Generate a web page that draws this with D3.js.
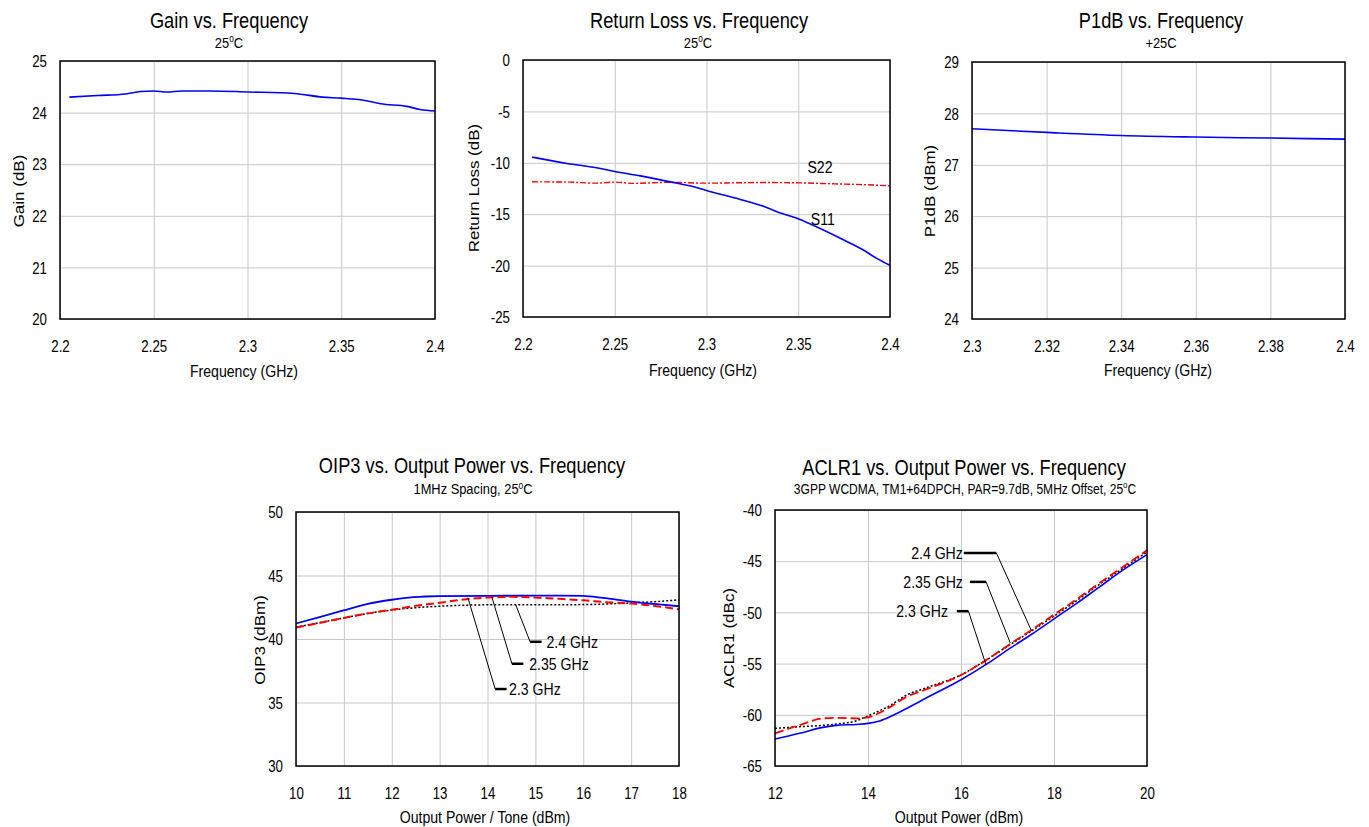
<!DOCTYPE html>
<html>
<head>
<meta charset="utf-8">
<script src="https://cdn.jsdelivr.net/npm/d3@7"></script>
<style>
  body { margin: 0; background: #fff; }
  text { font-family: "Liberation Sans", Arial, sans-serif; fill: #000; }
</style>
</head>
<body>
<script>
const WIDTH = 1369;
const HEIGHT = 827;
const SX = 0.83; // the source text is narrow, squeeze it sideways

// ---- Gain vs. Frequency
const gainFreq = [2.205, 2.22, 2.235, 2.243, 2.25, 2.257, 2.265, 2.28, 2.3, 2.325, 2.34, 2.35, 2.362, 2.371, 2.385, 2.392, 2.4];
const gainDb = [24.30, 24.33, 24.36, 24.41, 24.42, 24.40, 24.42, 24.42, 24.40, 24.37, 24.30, 24.28, 24.24, 24.17, 24.12, 24.06, 24.03];
const gainXTicks = [2.2, 2.25, 2.3, 2.35, 2.4];
const gainXLabels = ["2.2", "2.25", "2.3", "2.35", "2.4"];
const gainYTicks = [20, 21, 22, 23, 24, 25];
const gainYLabels = ["20", "21", "22", "23", "24", "25"];

// ---- Return Loss vs. Frequency
const s11Freq = [2.205, 2.224, 2.24, 2.25, 2.264, 2.281, 2.295, 2.3, 2.318, 2.331, 2.339, 2.35, 2.356, 2.374, 2.385, 2.393, 2.4];
const s11Db = [-9.45, -10.06, -10.49, -10.84, -11.27, -11.88, -12.43, -12.69, -13.54, -14.22, -14.8, -15.45, -15.91, -17.44, -18.44, -19.32, -19.97];
const s22Freq = [2.205, 2.225, 2.24, 2.25, 2.26, 2.28, 2.3, 2.33, 2.35, 2.37, 2.385, 2.4];
const s22Db = [-11.85, -11.88, -11.98, -11.88, -12.0, -11.9, -11.98, -11.92, -11.95, -12.05, -12.12, -12.24];
const rlYTicks = [-25, -20, -15, -10, -5, 0];
const rlYLabels = ["-25", "-20", "-15", "-10", "-5", "0"];

// ---- P1dB vs. Frequency
const p1Freq = [2.3, 2.32, 2.34, 2.36, 2.38, 2.4];
const p1Dbm = [27.70, 27.63, 27.57, 27.54, 27.52, 27.50];
const p1XTicks = [2.3, 2.32, 2.34, 2.36, 2.38, 2.4];
const p1XLabels = ["2.3", "2.32", "2.34", "2.36", "2.38", "2.4"];
const p1YTicks = [24, 25, 26, 27, 28, 29];
const p1YLabels = ["24", "25", "26", "27", "28", "29"];

// ---- OIP3 vs. Output Power
const oip3Pout23 = [10, 10.51, 10.99, 11.48, 12.0, 12.45, 13.0, 14.0, 15.0, 15.51, 16.0, 16.41, 17.0, 17.53, 18.0];
const oip3Val23 = [41.22, 41.74, 42.25, 42.75, 43.09, 43.29, 43.37, 43.39, 43.42, 43.42, 43.39, 43.24, 42.95, 42.74, 42.58];
const oip3Pout235 = [10, 10.51, 10.99, 11.48, 12.0, 12.45, 13.0, 13.5, 14.0, 14.54, 15.0, 15.5, 16.0, 16.48, 17.0, 17.53, 18.0];
const oip3Val235 = [40.90, 41.28, 41.65, 42.0, 42.3, 42.58, 42.85, 43.11, 43.26, 43.32, 43.26, 43.16, 43.05, 42.90, 42.79, 42.58, 42.34];
const oip3Pout24 = [10, 10.51, 10.99, 11.48, 12.0, 12.45, 13.0, 14.0, 15.0, 16.0, 17.0, 17.53, 18.0];
const oip3Val24 = [40.93, 41.3, 41.65, 42.0, 42.28, 42.45, 42.58, 42.69, 42.69, 42.71, 42.84, 42.95, 43.08];
const oip3XTicks = [10, 11, 12, 13, 14, 15, 16, 17, 18];
const oip3XLabels = ["10", "11", "12", "13", "14", "15", "16", "17", "18"];
const oip3YTicks = [30, 35, 40, 45, 50];
const oip3YLabels = ["30", "35", "40", "45", "50"];

// ---- ACLR1 vs. Output Power
const aclrPout = [12, 12.53, 13.03, 13.32, 13.75, 14.0, 14.25, 14.47, 14.83, 15.26, 16.0, 16.54, 17.05, 17.51, 18.01, 18.48, 18.98, 19.48, 20];
const aclr23 = [-62.37, -61.81, -61.23, -61.03, -60.94, -60.84, -60.6, -60.2, -59.38, -58.34, -56.58, -55.08, -53.52, -52.16, -50.60, -49.14, -47.51, -45.88, -44.36];
const aclr235 = [-61.81, -61.0, -60.35, -60.29, -60.35, -60.25, -59.8, -59.25, -58.24, -57.5, -56.12, -54.66, -53.10, -51.74, -50.18, -48.75, -47.12, -45.56, -43.93];
const aclr24 = [-61.33, -61.16, -61.03, -60.9, -60.58, -60.1, -59.6, -59.1, -58.07, -57.35, -56.1, -54.66, -53.17, -51.83, -50.34, -48.88, -47.25, -45.72, -44.10];
const aclrXTicks = [12, 14, 16, 18, 20];
const aclrXLabels = ["12", "14", "16", "18", "20"];
const aclrYTicks = [-65, -60, -55, -50, -45, -40];
const aclrYLabels = ["-65", "-60", "-55", "-50", "-45", "-40"];

const BLUE = "#0000ff";
const RED = "#ff0000";

var svg = d3.select("body").append("svg")
    .attr("width", WIDTH)
    .attr("height", HEIGHT);

// text helper: "º" becomes a small raised o
function addText(parent, x, y, str, size, anchor, rotated, dy) {
    let t = parent.append("text")
        .attr("transform", rotated
            ? `translate(${x},${y}) rotate(-90) scale(1,${SX})`
            : `translate(${x},${y}) scale(${SX},1)`)
        .attr("text-anchor", anchor || "middle")
        .attr("font-size", size);
    if (dy) t.attr("dy", dy);
    let parts = str.split("º");
    parts.forEach(function (p, i) {
        if (i > 0) {
            t.append("tspan").attr("font-size", size * 0.65).attr("dy", -size * 0.35).text("o");
        }
        let sp = t.append("tspan").text(p);
        if (i > 0) sp.attr("dy", size * 0.35);
    });
    return t;
}

function drawChart(c) {
    let g = svg.append("g");
    let x = d3.scaleLinear().domain(c.xDomain).range([c.left, c.right]);
    let y = d3.scaleLinear().domain(c.yDomain).range([c.bottom, c.top]);

    // grid
    g.append("g")
        .attr("transform", `translate(0,${c.bottom})`)
        .call(d3.axisBottom(x).tickValues(c.xTicks).tickSize(-(c.bottom - c.top)).tickFormat(""))
        .call(a => a.select(".domain").remove())
        .selectAll("line").attr("stroke", "#c8c8c8");
    g.append("g")
        .attr("transform", `translate(${c.left},0)`)
        .call(d3.axisLeft(y).tickValues(c.yTicks).tickSize(-(c.right - c.left)).tickFormat(""))
        .call(a => a.select(".domain").remove())
        .selectAll("line").attr("stroke", "#c8c8c8");

    // tick labels
    g.append("g")
        .attr("transform", `translate(0,${c.bottom})`)
        .call(d3.axisBottom(x).tickValues(c.xTicks).tickSize(0).tickFormat((d, i) => c.xLabels[i]))
        .call(a => a.select(".domain").remove())
        .selectAll("text")
        .attr("y", 33.5).attr("dy", 0)
        .attr("font-size", 16).attr("font-family", null).attr("fill", "#000")
        .attr("transform", `scale(${SX},1)`);
    g.append("g")
        .attr("transform", `translate(${c.left},0)`)
        .call(d3.axisLeft(y).tickValues(c.yTicks).tickSize(0).tickFormat((d, i) => c.yLabels[i]))
        .call(a => a.select(".domain").remove())
        .selectAll("text")
        .attr("x", -13 / SX).attr("dy", "0.36em")
        .attr("font-size", 16).attr("font-family", null).attr("fill", "#000")
        .attr("transform", `scale(${SX},1)`);

    // curves
    let line = d3.line()
        .x(d => x(d[0]))
        .y(d => y(d[1]))
        .curve(d3.curveMonotoneX);
    c.series.forEach(function (s) {
        g.append("path")
            .datum(d3.zip(s.x, s.y))
            .attr("d", line)
            .attr("fill", "none")
            .attr("stroke", s.color)
            .attr("stroke-width", s.width)
            .attr("stroke-dasharray", s.dash || null);
    });

    // leader lines
    (c.leaders || []).forEach(function (l) {
        g.append("path")
            .attr("d", d3.line().x(d => x(d[0])).y(d => y(d[1]))(l.thin))
            .attr("fill", "none").attr("stroke", "#000").attr("stroke-width", 1);
        g.append("path")
            .attr("d", d3.line().x(d => x(d[0])).y(d => y(d[1]))(l.thick))
            .attr("fill", "none").attr("stroke", "#000").attr("stroke-width", 2.5);
    });
    (c.notes || []).forEach(function (n) {
        addText(g, x(n.x), y(n.y), n.text, 17, n.anchor, false, "0.36em");
    });

    // frame
    g.append("rect")
        .attr("x", c.left).attr("y", c.top)
        .attr("width", c.right - c.left).attr("height", c.bottom - c.top)
        .attr("fill", "none").attr("stroke", "#000").attr("stroke-width", 1.5);

    // titles
    addText(g, c.titlePos[0], c.titlePos[1], c.title, 22, "middle");
    addText(g, c.subPos[0], c.subPos[1], c.sub, c.subSize || 15.5, "middle");
    addText(g, c.xTitlePos[0], c.xTitlePos[1], c.xTitle, 17, "middle");
    addText(g, c.yTitlePos[0], c.yTitlePos[1], c.yTitle, 17, "middle", true, "0.36em");
}

drawChart({
    left: 60, right: 435, top: 61, bottom: 319,
    xDomain: [2.2, 2.4], yDomain: [20, 25],
    xTicks: gainXTicks, xLabels: gainXLabels, yTicks: gainYTicks, yLabels: gainYLabels,
    title: "Gain vs. Frequency", titlePos: [229, 28],
    sub: "25ºC", subPos: [229, 47.5],
    xTitle: "Frequency (GHz)", xTitlePos: [244, 376.5],
    yTitle: "Gain (dB)", yTitlePos: [19, 191],
    series: [{ x: gainFreq, y: gainDb, color: BLUE, width: 1.6 }]
});

drawChart({
    left: 523, right: 890, top: 60, bottom: 317,
    xDomain: [2.2, 2.4], yDomain: [-25, 0],
    xTicks: gainXTicks, xLabels: gainXLabels, yTicks: rlYTicks, yLabels: rlYLabels,
    title: "Return Loss vs. Frequency", titlePos: [699, 28],
    sub: "25ºC", subPos: [698, 47.5],
    xTitle: "Frequency (GHz)", xTitlePos: [703, 376],
    yTitle: "Return Loss (dB)", yTitlePos: [474, 188],
    series: [
        { x: s22Freq, y: s22Db, color: RED, width: 1.4, dash: "6,2,2,2" },
        { x: s11Freq, y: s11Db, color: BLUE, width: 1.6 }
    ],
    notes: [
        { text: "S22", x: 2.355, y: -10.39, anchor: "start" },
        { text: "S11", x: 2.3568, y: -15.42, anchor: "start" }
    ]
});

drawChart({
    left: 972, right: 1345, top: 62, bottom: 319,
    xDomain: [2.3, 2.4], yDomain: [24, 29],
    xTicks: p1XTicks, xLabels: p1XLabels, yTicks: p1YTicks, yLabels: p1YLabels,
    title: "P1dB vs. Frequency", titlePos: [1161, 28],
    sub: "+25C", subPos: [1161, 47.5],
    xTitle: "Frequency (GHz)", xTitlePos: [1158, 376],
    yTitle: "P1dB (dBm)", yTitlePos: [930, 191],
    series: [{ x: p1Freq, y: p1Dbm, color: BLUE, width: 1.6 }]
});

drawChart({
    left: 296, right: 679, top: 512, bottom: 766,
    xDomain: [10, 18], yDomain: [30, 50],
    xTicks: oip3XTicks, xLabels: oip3XLabels, yTicks: oip3YTicks, yLabels: oip3YLabels,
    title: "OIP3 vs. Output Power vs. Frequency", titlePos: [472, 473],
    sub: "1MHz Spacing, 25ºC", subPos: [473, 494],
    xTitle: "Output Power / Tone (dBm)", xTitlePos: [485, 823],
    yTitle: "OIP3 (dBm)", yTitlePos: [260, 640],
    series: [
        { x: oip3Pout24, y: oip3Val24, color: "#000", width: 1.5, dash: "2,2" },
        { x: oip3Pout23, y: oip3Val23, color: BLUE, width: 1.8 },
        { x: oip3Pout235, y: oip3Val235, color: RED, width: 2, dash: "8,4" }
    ],
    leaders: [
        { thin: [[13.59, 43.26], [14.16, 36.06]], thick: [[14.16, 36.06], [14.40, 36.06]] },
        { thin: [[14.09, 43.32], [14.51, 38.05]], thick: [[14.51, 38.05], [14.75, 38.05]] },
        { thin: [[14.59, 42.69], [14.89, 39.78]], thick: [[14.89, 39.78], [15.13, 39.78]] }
    ],
    notes: [
        { text: "2.3 GHz", x: 14.45, y: 36.06, anchor: "start" },
        { text: "2.35 GHz", x: 14.87, y: 38.05, anchor: "start" },
        { text: "2.4 GHz", x: 15.23, y: 39.78, anchor: "start" }
    ]
});

drawChart({
    left: 775, right: 1147, top: 510, bottom: 766,
    xDomain: [12, 20], yDomain: [-65, -40],
    xTicks: aclrXTicks, xLabels: aclrXLabels, yTicks: aclrYTicks, yLabels: aclrYLabels,
    title: "ACLR1 vs. Output Power vs. Frequency", titlePos: [964, 475],
    sub: "3GPP WCDMA, TM1+64DPCH, PAR=9.7dB, 5MHz Offset, 25ºC", subPos: [965, 493.5], subSize: 14.5,
    xTitle: "Output Power (dBm)", xTitlePos: [959, 823],
    yTitle: "ACLR1 (dBc)", yTitlePos: [729, 638],
    series: [
        { x: aclrPout, y: aclr24, color: "#000", width: 1.5, dash: "2,2" },
        { x: aclrPout, y: aclr23, color: BLUE, width: 1.6 },
        { x: aclrPout, y: aclr235, color: RED, width: 1.8, dash: "9,4" }
    ],
    leaders: [
        { thin: [[16.76, -44.19], [17.51, -51.74]], thick: [[16.06, -44.19], [16.76, -44.19]] },
        { thin: [[16.54, -47.02], [17.06, -53.0]], thick: [[16.19, -47.02], [16.54, -47.02]] },
        { thin: [[16.16, -49.88], [16.54, -55.15]], thick: [[15.91, -49.88], [16.16, -49.88]] }
    ],
    notes: [
        { text: "2.4 GHz", x: 16.04, y: -44.19, anchor: "end" },
        { text: "2.35 GHz", x: 16.04, y: -47.02, anchor: "end" },
        { text: "2.3 GHz", x: 15.72, y: -49.88, anchor: "end" }
    ]
});
</script>
</body>
</html>
